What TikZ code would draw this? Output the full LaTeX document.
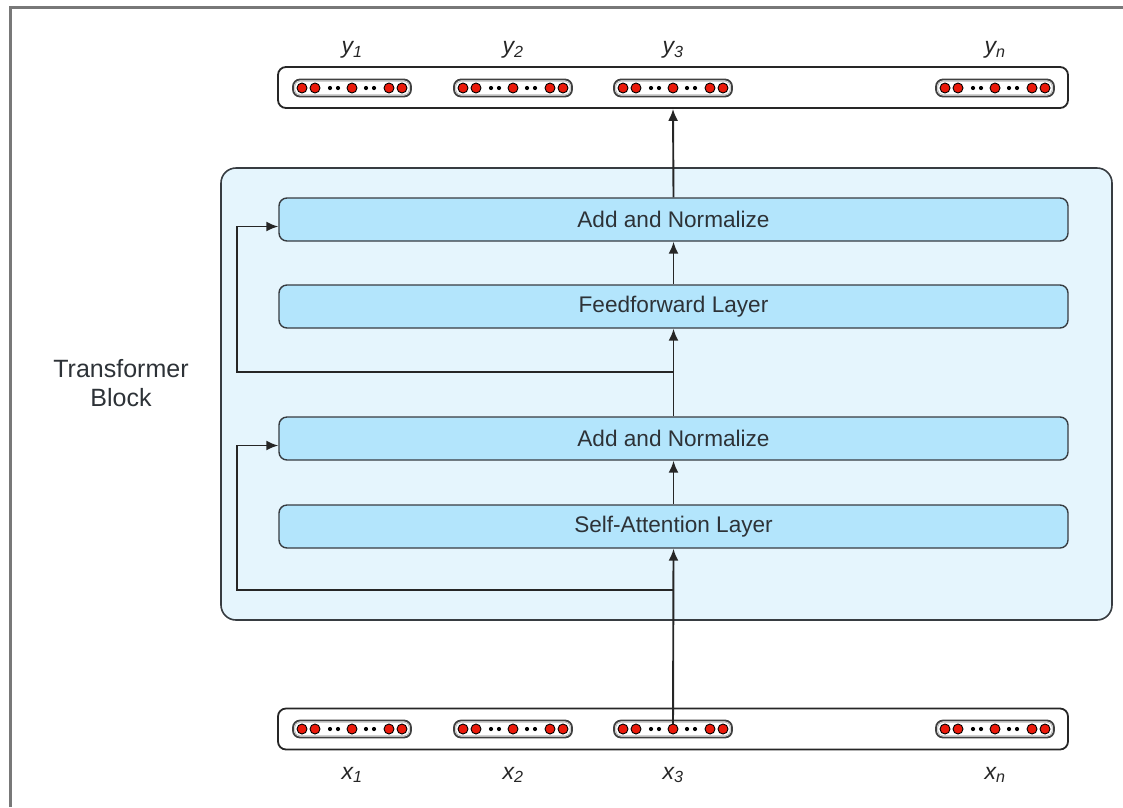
\documentclass[tikz,border=0pt]{standalone}
\usepackage{fontspec}
\setmainfont{Liberation Sans}
\usetikzlibrary{arrows.meta}
\definecolor{blockbg}{RGB}{229,245,253}
\definecolor{layerbg}{RGB}{179,229,252}
\definecolor{edgecol}{RGB}{55,60,65}
\definecolor{tokred}{RGB}{235,25,10}
\definecolor{txt}{RGB}{45,50,55}
\definecolor{framecol}{RGB}{120,120,120}

% one token vector: outer pill, inner outline, red units and dots
\newcommand\tokvec[3]{%
  \node[pill] (#1) at (#2,#3) {};
  \draw[gray!55, line width=0.8pt, rounded corners=5pt]
    ([xshift=2.6pt,yshift=2.6pt]#1.south west) rectangle ([xshift=-2.6pt,yshift=-2.6pt]#1.north east);
  \foreach \dx in {-50,-37,0,37,50}
    \filldraw[fill=tokred, draw=black, line width=0.9pt] ([xshift=\dx pt]#1.center) circle (5pt);
  \foreach \dx in {-22,-14,14,22}
    \fill[black] ([xshift=\dx pt]#1.center) circle (2.1pt);
}

\begin{document}
\begin{tikzpicture}[x=1pt, y=-1pt,
  block/.style={draw=edgecol, line width=1.6pt, fill=blockbg, rounded corners=15pt,
    minimum width=891pt, minimum height=452pt, inner sep=0pt},
  layer/.style={draw=edgecol, line width=1.4pt, fill=layerbg, rounded corners=8pt,
    minimum width=789pt, minimum height=43pt, inner sep=0pt, text=txt,
    font=\fontsize{22.6}{25}\selectfont},
  iobox/.style={draw=black!85, line width=1.8pt, fill=white, rounded corners=8pt,
    minimum width=790pt, minimum height=41pt, inner sep=0pt},
  pill/.style={draw=black!75, line width=1.8pt, fill=white, rounded corners=7pt,
    minimum width=118pt, minimum height=17pt, inner sep=0pt},
  veclabel/.style={text=black!85, font=\fontsize{23}{25}\selectfont\itshape, inner sep=0pt},
  arr/.style={draw=black!85, line width=1.9pt, -{Latex[length=12pt,width=10pt]}},
  line/.style={draw=black!85, line width=1.9pt}
]
\useasboundingbox (0,0) rectangle (1123,807);

% page frame
\draw[framecol, line width=3pt] (10,807) -- (10,7) -- (1123,7);

% transformer block and its layers
\node[block] (blk) at (666.5,394) {};
\node[align=center, text=txt, font=\fontsize{25}{29}\selectfont] (blklabel) at (121,383) {Transformer\\Block};

\node[layer] (an2) at (673.5,219.5) {Add and Normalize};
\node[layer] (ff)  at (673.5,306.5) {Feedforward Layer};
\node[layer] (an1) at (673.5,438.5) {Add and Normalize};
\node[layer] (sa)  at (673.5,526.5) {Self-Attention Layer};

% output and input rows
\node[iobox] (out) at (673,87.5) {};
\node[iobox] (in)  at (673,729) {};

\tokvec{vy1}{352}{88}
\tokvec{vy2}{513}{88}
\tokvec{vy3}{673}{88}
\tokvec{vyn}{995}{88}
\tokvec{vx1}{352}{729}
\tokvec{vx2}{513}{729}
\tokvec{vx3}{673}{729}
\tokvec{vxn}{995}{729}

\node[veclabel] (ly1) at (352,50) {y\textsubscript{1}};
\node[veclabel] (ly2) at (513,50) {y\textsubscript{2}};
\node[veclabel] (ly3) at (673,50) {y\textsubscript{3}};
\node[veclabel] (lyn) at (995,50) {y\textsubscript{n}};
\node[veclabel] (lx1) at (352,775) {x\textsubscript{1}};
\node[veclabel] (lx2) at (513,775) {x\textsubscript{2}};
\node[veclabel] (lx3) at (673,775) {x\textsubscript{3}};
\node[veclabel] (lxn) at (995,775) {x\textsubscript{n}};

% main data path
\coordinate (j1) at (673,590);
\coordinate (j2) at (673,372);
\coordinate (r1) at (237,590);
\coordinate (r2) at (237,372);

\draw[arr, shorten <=5pt] (vx3.center) -- (sa.south);
\draw[arr] (sa.north) -- (an1.south);
\draw[arr] (an1.north) -- (ff.south);
\draw[arr] (ff.north) -- (an2.south);
\draw[arr] (an2.north) -- (out.south);

% residual connections
\draw[arr] (j1) -- (r1) |- ([yshift=-7pt]an1.west);
\draw[arr] (j2) -- (r2) |- ([yshift=-7pt]an2.west);
\end{tikzpicture}
\end{document}
